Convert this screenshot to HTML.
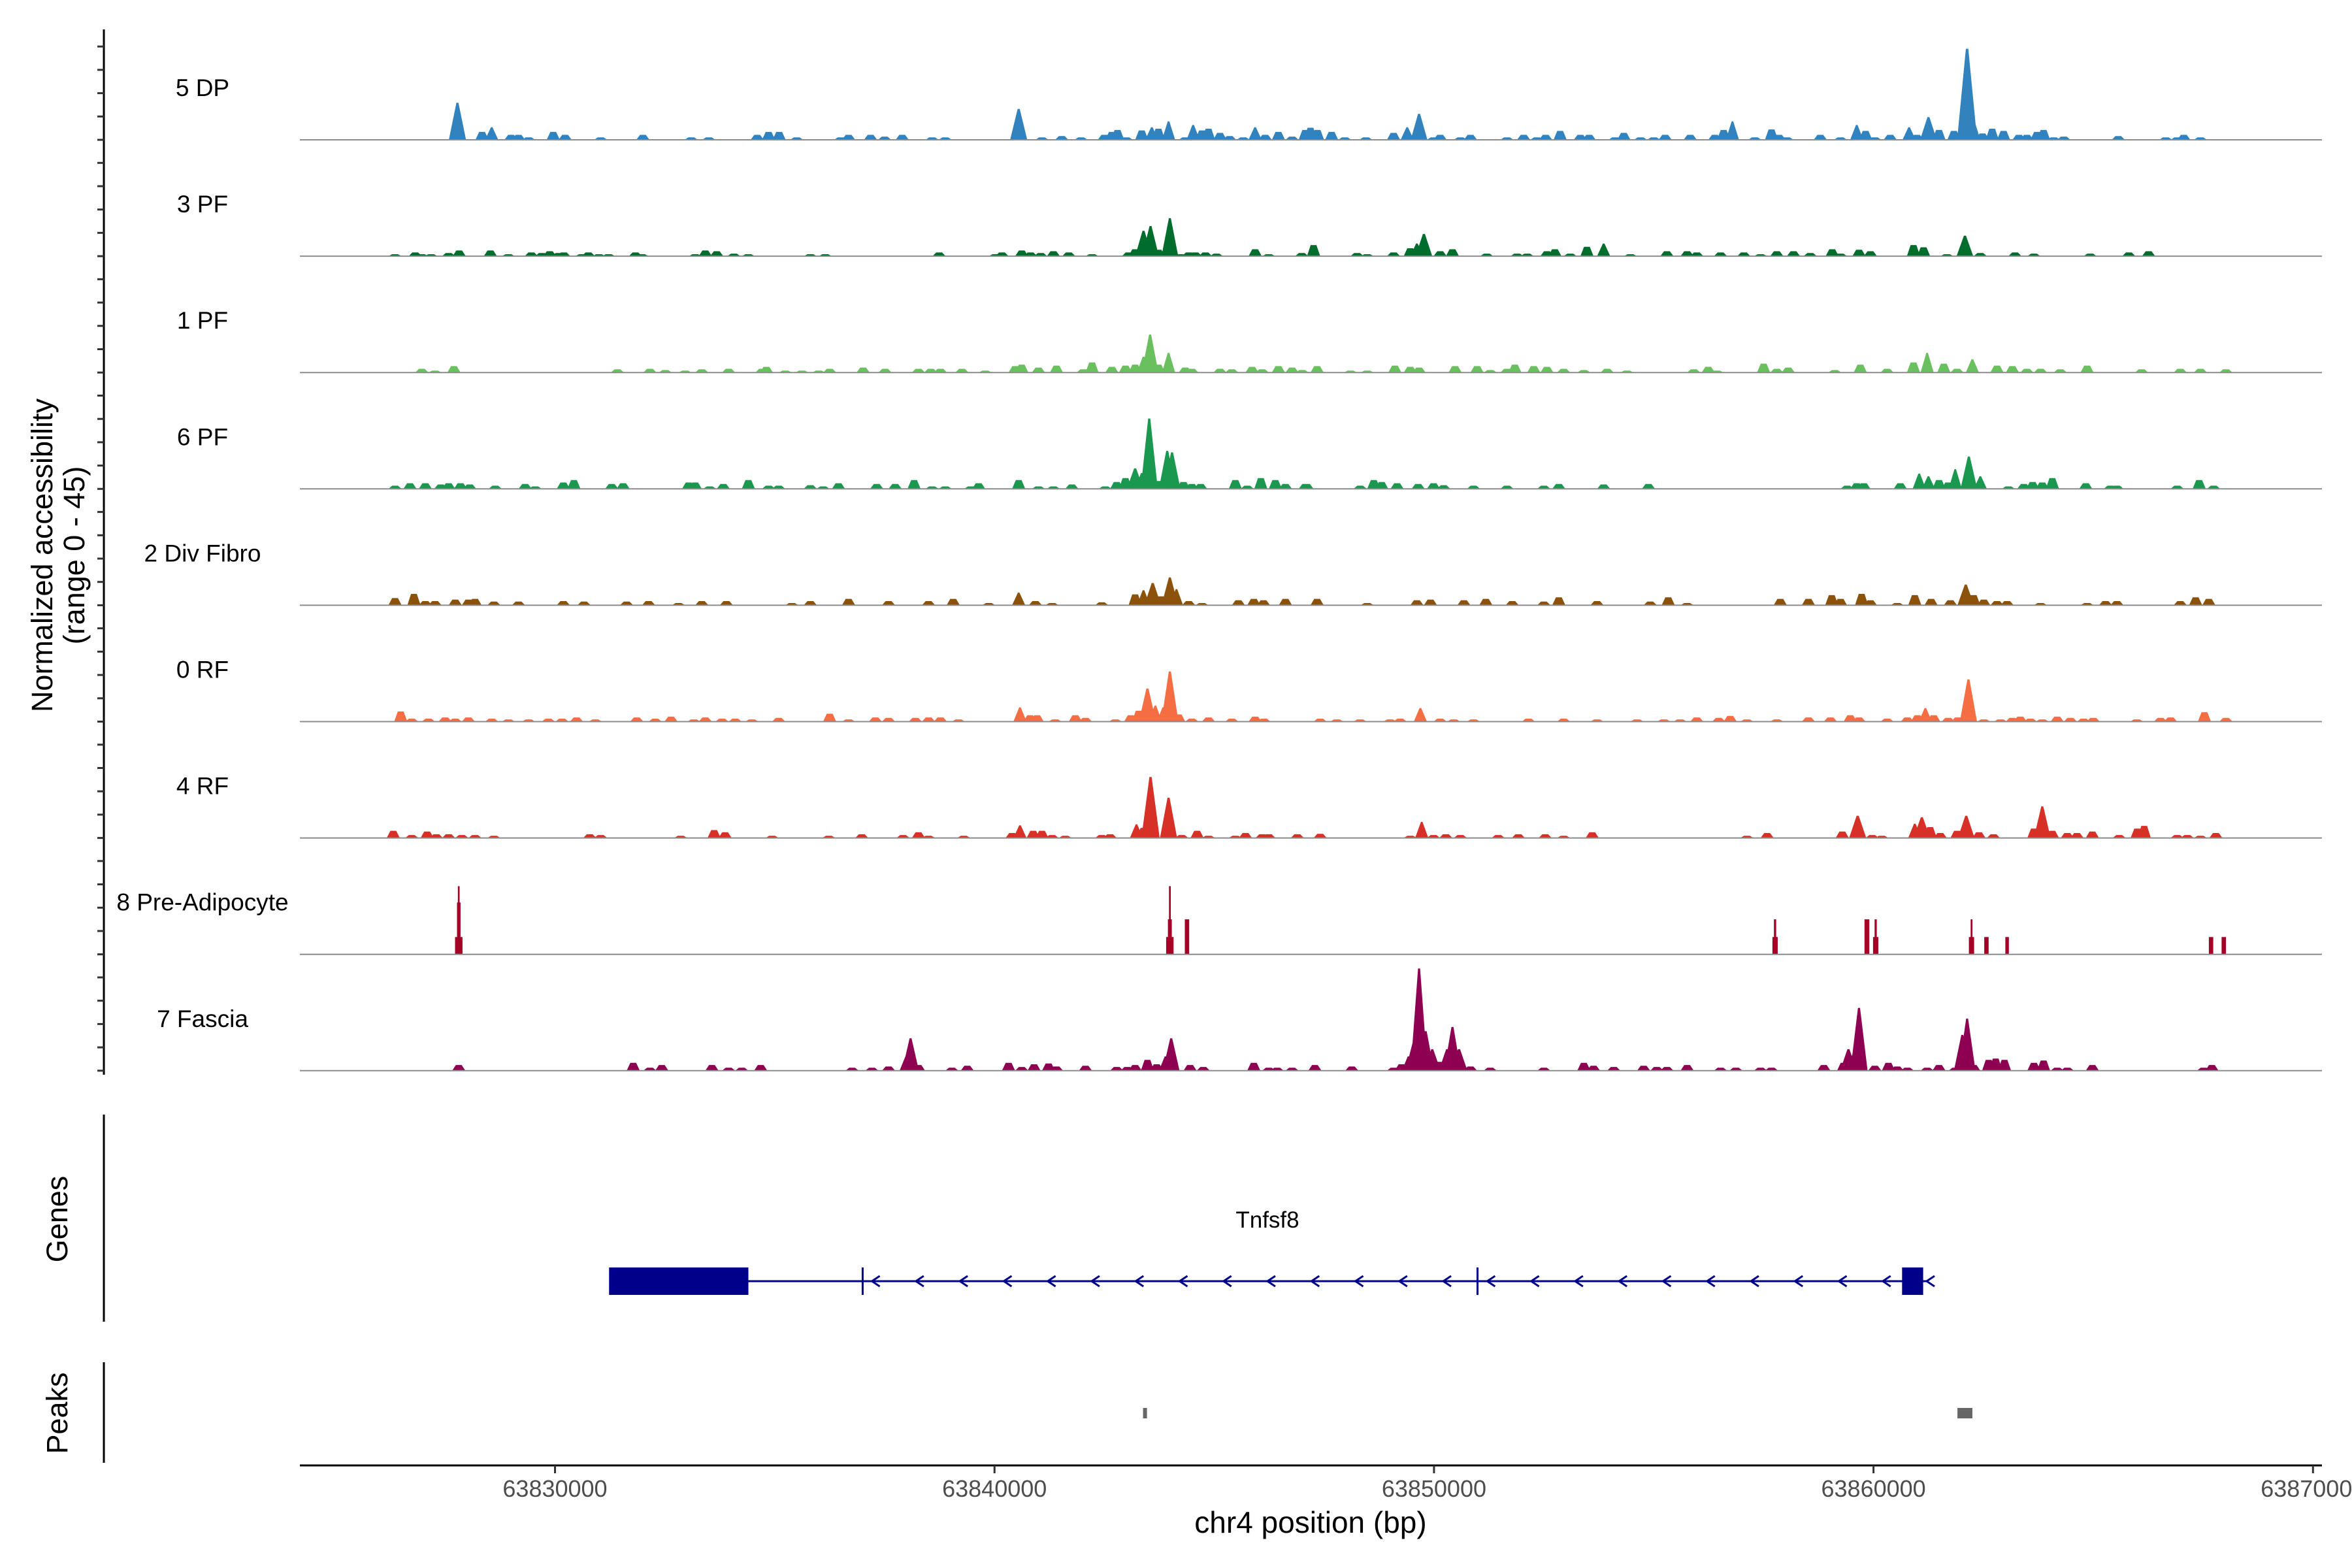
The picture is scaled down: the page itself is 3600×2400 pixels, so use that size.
<!DOCTYPE html>
<html><head><meta charset="utf-8"><style>
html,body{margin:0;padding:0;background:#fff;}
svg{display:block;font-family:"Liberation Sans",Arial,sans-serif;}
</style></head><body>
<svg id="chart" width="3600" height="2400" viewBox="0 0 3600 2400" xmlns="http://www.w3.org/2000/svg">
<rect x="0" y="0" width="3600" height="2400" fill="#fff"/>
<g id="tracks"></g>
<g id="yaxis"></g>
<text transform="translate(80,850) rotate(-90)" text-anchor="middle" font-size="45" fill="#000">Normalized accessibility</text>
<text transform="translate(129,850) rotate(-90)" text-anchor="middle" font-size="45" fill="#000">(range 0 - 45)</text>
<g id="genes"></g>
<line x1="159" y1="1706" x2="159" y2="2023" stroke="#000" stroke-width="3"/>
<text transform="translate(103,1866) rotate(-90)" text-anchor="middle" font-size="45" fill="#000">Genes</text>
<g id="peaks"></g>
<line x1="159" y1="2085" x2="159" y2="2239" stroke="#000" stroke-width="3"/>
<text transform="translate(103,2163) rotate(-90)" text-anchor="middle" font-size="45" fill="#000">Peaks</text>
<g id="xaxis"></g>
<text x="2006" y="2346" text-anchor="middle" font-size="46" fill="#000">chr4 position (bp)</text>
</svg>
<script>
// ---- data (positions in kb offset from chr4:63,800,000; values = normalized accessibility) ----
const trackNames = ["5 DP","3 PF","1 PF","6 PF","2 Div Fibro","0 RF","4 RF","8 Pre-Adipocyte","7 Fascia"];
const trackColors = ["#3182bd","#006d2c","#6abf5e","#1a9850","#8c510a","#f46d43","#d73027","#a50026","#8e0152"];
const xTicks = [63830000,63840000,63850000,63860000,63870000];
const tDP = [[27.78,15,0.3],[28.34,3.2],[28.56,5.1],[29.0,2],[29.17,2],[29.4,1],[29.96,3.2],[30.23,2],[31.04,1],[32.0,2],[33.1,1],[33.5,1],[34.6,2],[34.86,3.2],[35.1,3.2],[35.5,1],[36.5,1],[36.68,2],[37.18,2],[37.5,1.3],[37.9,2],[38.58,1],[38.88,1],[40.55,12.5,0.3],[41.08,1],[41.53,1.5],[41.97,1],[42.5,2],[42.67,3.2],[42.8,4],[43.0,1],[43.35,3.8],[43.58,5.1],[43.73,4.5],[43.96,7.5],[44.34,1],[44.52,6],[44.72,3.8],[44.87,4.5],[45.13,2.8],[45.35,1.5],[45.66,1],[45.93,5.1],[46.16,2],[46.46,3.2],[46.77,1.3],[47.07,4],[47.19,4.9],[47.35,4],[47.67,3.2],[47.97,1],[48.45,1],[49.08,2.8],[49.39,5.1],[49.66,10.5],[49.99,1],[50.14,2],[50.6,1],[50.83,2],[51.66,1],[52.04,2],[52.34,1],[52.54,2],[52.87,3.6],[53.33,2],[53.53,2],[54.12,1],[54.32,2.8],[54.7,1],[55.0,1],[55.26,2],[55.83,2],[56.39,2],[56.59,4],[56.79,7.5],[57.3,1],[57.68,4.2],[57.85,2],[58.03,1],[58.79,2],[59.25,1],[59.62,6],[59.82,3.6],[60.03,1],[60.38,2],[60.81,5.1],[60.99,2],[61.25,9.2],[61.49,4],[61.83,3.6],[62.13,36.9,0.35],[62.28,7.7],[62.48,2.6],[62.7,4.5],[62.96,3.6],[63.31,2],[63.49,2],[63.72,3.2],[63.87,4],[64.1,1],[64.33,1.3],[65.57,1.5],[66.65,1],[66.91,1],[67.06,2],[67.44,1]];
const tPF3 = [[26.36,0.8],[26.82,1.5],[26.97,0.8],[27.18,0.8],[27.58,1.3],[27.82,2.3],[28.53,2.3],[28.94,0.8],[29.46,1.5],[29.7,1.3],[29.88,2],[30.08,1.3],[30.2,1.5],[30.61,0.8],[30.76,1.5],[31.0,0.8],[31.22,0.8],[31.83,1.5],[31.98,0.8],[33.19,0.8],[33.42,2.3],[33.68,2],[34.07,1],[34.4,0.8],[35.81,0.8],[36.15,0.8],[38.74,1.5],[40.02,0.8],[40.17,1.5],[40.62,2.3],[40.82,1.5],[41.05,1.3],[41.34,2],[41.69,1.5],[42.22,0.8],[43.05,1.5],[43.2,2.8],[43.39,10.3],[43.55,12.2],[43.73,2.6],[43.99,15.4],[44.23,0.8],[44.42,1.5],[44.57,1.5],[44.8,1.5],[45.05,1],[45.93,2.8],[46.24,0.8],[46.99,1.3],[47.26,4.5],[48.25,1.3],[48.48,0.8],[49.08,1.5],[49.46,3.2],[49.61,5.1],[49.77,9],[50.14,2],[50.42,2.8],[51.2,1],[51.89,1],[52.12,1],[52.57,2],[52.75,2.8],[53.1,1],[53.48,3.8],[53.86,5.1],[54.47,0.8],[55.3,2],[55.76,2],[55.98,1.5],[56.52,1.5],[57.05,1.5],[57.43,0.8],[57.8,2],[58.18,2],[58.56,1.3],[59.06,2.8],[59.25,1],[59.67,2.6],[59.93,2],[60.91,4.5],[61.14,3.6],[61.67,0.8],[62.08,8.3],[62.43,1.3],[63.22,1.5],[63.65,1],[64.93,1],[65.81,1.5],[66.26,2]];
const tPF1 = [[26.97,1.5],[27.27,0.8],[27.7,2.6],[31.42,1.3],[32.16,1.5],[32.51,1],[32.96,0.8],[33.34,1.3],[33.95,1.5],[34.71,1.5],[34.81,2.3],[35.24,0.8],[35.62,0.8],[36.0,0.8],[36.25,1.5],[37.01,2],[37.51,1.5],[38.27,1.5],[38.55,1.5],[38.77,1.5],[39.26,1.5],[39.79,0.8],[40.47,2.6],[40.62,3.2],[41.0,2],[41.41,2.8],[42.02,1.3],[42.22,4.1],[42.67,2.3],[42.98,2.8],[43.2,3.2],[43.39,6.4],[43.54,15.4],[43.73,3.2],[43.96,8],[44.34,2],[44.49,1.5],[45.13,1.5],[45.4,1.3],[45.86,2.3],[46.09,1.3],[46.46,2.6],[46.77,2],[47.0,1],[47.34,2.6],[48.1,0.8],[48.48,0.8],[49.11,2.8],[49.46,2.3],[49.66,2],[50.48,2.6],[50.98,2.6],[51.28,1],[51.66,1.5],[51.84,3.2],[52.27,2.6],[52.57,2.3],[52.95,1.5],[53.41,1],[53.94,1.5],[54.39,0.8],[55.91,1.3],[56.24,2.3],[56.44,0.8],[57.5,3.6],[57.8,1.5],[58.06,2],[59.12,1],[59.7,3.2],[60.31,1.5],[60.91,4.1],[61.22,8],[61.6,3.6],[61.9,1.5],[62.25,5.4],[62.81,2.8],[63.16,2.6],[63.49,1.5],[63.8,1.5],[64.25,1.3],[64.86,2.8],[66.1,1.3],[66.98,1.5],[67.44,1.5],[68.02,1.3]];
const tPF6 = [[26.36,1.3],[26.7,2.3],[27.05,2.3],[27.4,1.8],[27.58,2.3],[27.85,2.3],[28.06,1.8],[28.64,1.3],[29.32,2],[29.55,1],[30.19,2.6],[30.43,3.6],[31.29,2],[31.55,2.3],[33.04,2.6],[33.19,2.6],[33.52,1],[33.83,2],[34.4,3.6],[34.86,1.3],[35.09,1.3],[35.81,1.5],[36.1,1],[36.45,2.3],[37.32,2],[37.74,2],[38.17,3.6],[38.58,1],[38.88,1],[39.46,1],[39.64,2.3],[40.55,3.6],[41.0,1],[41.34,1],[41.76,1.8],[42.52,1],[42.78,2.8],[42.98,4.4],[43.2,8.3],[43.35,6.4],[43.52,28.5,0.3],[43.73,3.2],[43.93,15.4],[44.04,14.8],[44.3,2.8],[44.49,2],[44.69,2],[45.48,3.6],[45.75,1.3],[46.06,4.4],[46.39,3.6],[46.62,2],[47.07,2],[47.11,2],[48.32,1.3],[48.63,3.6],[48.81,2.8],[49.16,2.3],[49.64,2],[49.99,2.3],[50.22,1.5],[50.9,1.3],[51.66,1.3],[52.5,1.3],[52.84,2],[53.86,1.8],[54.88,2],[59.4,1.3],[59.62,2.3],[59.78,2.3],[60.61,2.3],[61.04,6.2],[61.25,5.1],[61.49,3.6],[61.7,2.6],[61.86,8],[62.17,13.1],[62.43,5.1],[63.07,1],[63.42,2],[63.62,2.8],[63.84,2.6],[64.07,4.4],[64.83,2.3],[65.39,1.3],[65.54,1.3],[66.91,1.3],[67.41,3.6],[67.74,1.3]];
const tDiv = [[26.36,2.9],[26.79,4.6],[27.05,1.7],[27.27,1.7],[27.73,2.3],[28.03,2.3],[28.18,2.6],[28.61,1.5],[29.17,1.5],[30.19,1.7],[30.66,1.5],[31.63,1.5],[32.13,1.7],[32.81,0.9],[33.34,1.7],[33.9,1.7],[35.39,0.9],[35.81,1.7],[36.68,2.6],[37.59,1.7],[38.5,1.7],[39.06,2.6],[39.87,0.9],[40.55,5.1],[40.93,1.7],[41.31,0.9],[42.44,1.2],[43.2,4.4],[43.39,6.1],[43.6,9],[43.78,3.6],[43.99,11.3],[44.14,6.5],[44.42,1.7],[44.72,0.9],[45.55,2],[45.9,2.6],[46.12,2],[46.62,2.6],[47.34,2.6],[48.48,0.9],[49.61,2],[49.92,2.3],[50.68,2],[51.18,2.6],[51.78,1.7],[52.5,1.5],[52.84,3.2],[53.71,1.7],[54.92,1.5],[55.33,3.2],[55.76,0.9],[57.88,2.6],[58.52,2.6],[59.05,4.1],[59.25,2.6],[59.73,4.6],[59.93,2],[60.54,0.9],[60.94,4.1],[61.31,2.6],[61.75,2],[62.1,8.4],[62.28,4.1],[62.51,2.3],[62.81,1.7],[63.04,1.7],[63.8,0.9],[64.86,0.9],[65.28,1.7],[65.54,1.7],[66.98,1.7],[67.33,3.2],[67.63,2.6]];
const tRF0 = [[26.49,4.1],[26.74,1.2],[27.12,1.2],[27.5,1.7],[27.73,1.2],[28.03,1.7],[28.56,1.2],[28.94,0.9],[29.4,0.9],[29.85,1.2],[30.16,1.2],[30.49,1.7],[30.92,0.9],[31.86,1.7],[32.28,1.2],[32.64,2],[33.16,0.9],[33.42,1.7],[33.8,1.2],[34.1,1.2],[34.48,0.9],[35.09,1.5],[36.25,3.2],[36.68,0.9],[37.29,1.7],[37.59,1.5],[38.2,1.5],[38.5,1.7],[38.77,1.7],[39.18,0.9],[40.58,5.8],[40.81,2.6],[40.97,2.6],[41.38,0.9],[41.84,2.6],[42.07,1.5],[42.75,0.9],[43.1,2.6],[43.28,4.4],[43.48,13.4,0.3],[43.66,6.5],[43.84,5.8],[43.99,20.3,0.3],[44.19,2.9],[44.49,1.2],[44.87,1.7],[45.4,1.2],[45.93,2],[46.13,1.2],[47.41,1.2],[47.79,0.9],[48.32,0.9],[49.0,0.9],[49.23,1.2],[49.69,5.5],[50.14,1.2],[50.45,0.9],[50.9,0.9],[52.15,1.2],[52.95,1.2],[53.71,0.9],[54.62,0.9],[55.23,0.9],[55.6,0.9],[55.98,1.7],[56.48,1.5],[56.74,2.3],[57.12,0.9],[57.8,0.9],[58.52,1.7],[59.02,1.7],[59.47,2.6],[59.67,1.7],[60.31,1.2],[60.77,1.7],[61.0,2.6],[61.18,5.5],[61.37,2.6],[61.7,1.5],[61.92,1.7],[62.16,17.1,0.3],[62.51,0.9],[62.89,0.9],[63.16,1.5],[63.34,2],[63.57,1.2],[63.84,0.9],[64.18,2],[64.48,1.5],[64.78,1.2],[65.0,1.5],[65.99,0.9],[66.53,1.5],[66.76,1.7],[67.53,3.8],[68.02,1.5]];
const tRF4 = [[26.32,2.9],[26.74,1.2],[27.09,2.6],[27.3,1.5],[27.58,1.5],[27.88,1.2],[28.18,1.2],[28.61,0.9],[30.79,1.5],[31.04,1.2],[32.86,0.9],[33.62,3.2],[33.87,2.3],[34.94,0.9],[36.23,0.9],[36.98,1.5],[37.92,1.2],[38.27,2.3],[38.5,0.9],[39.3,0.9],[40.4,2],[40.58,5.1],[40.88,2.9],[41.08,2.9],[41.31,1.2],[41.61,0.9],[42.44,1.2],[42.63,1.5],[43.23,5.5],[43.39,4.1],[43.55,24.7,0.32],[43.96,16.3,0.3],[44.26,1.2],[44.61,2.9],[44.87,0.9],[45.48,0.9],[45.71,2],[46.09,1.5],[46.24,1.5],[46.89,1.5],[47.41,1.7],[49.46,0.9],[49.72,6.5],[49.99,1.2],[50.27,1.5],[50.6,1.2],[51.46,1.2],[51.92,1.5],[52.53,1.5],[52.95,0.9],[53.6,2.3],[57.12,0.9],[57.58,2],[59.29,2.6],[59.64,9,0.3],[59.97,1.2],[60.19,0.9],[60.94,5.8],[61.1,8.4],[61.29,4.4],[61.52,2],[61.9,2.9],[62.11,9],[62.4,2.3],[62.73,1.5],[63.65,3.8],[63.84,12.8],[64.07,2.9],[64.41,2],[64.63,2],[64.98,2.6],[65.59,1.2],[66.0,3.8],[66.16,4.9],[66.91,1.2],[67.14,1.2],[67.44,0.9],[67.79,2]];
const tPre = [[27.81,27.6,0.04],[27.81,21,0.08],[27.81,7,0.17],[43.99,27.6,0.04],[43.99,14.2,0.09],[43.99,7,0.17],[44.38,14.2,0.1],[57.76,14.2,0.05],[57.76,7,0.12],[59.85,14.2,0.11],[60.05,14.2,0.05],[60.05,7,0.12],[62.23,14.2,0.04],[62.23,7,0.12],[62.57,7,0.1],[63.04,7,0.08],[67.68,7,0.1],[67.97,7,0.1]];
const tFas = [[27.81,2.3],[31.78,3.2],[32.16,1.2],[32.43,2.3],[33.57,2.3],[33.95,1.2],[34.25,1.2],[34.68,2.3],[36.76,1.2],[37.21,1.2],[37.59,1.7],[37.99,5.8],[38.09,13.1],[38.27,2.3],[39.03,1.2],[39.38,2],[40.32,3.2],[40.62,1.5],[40.9,2.6],[41.23,2.9],[41.41,1.7],[42.07,2],[42.78,1.5],[43.02,1.5],[43.2,2.3],[43.48,4.4],[43.69,2.6],[43.89,5.8],[44.02,13.1],[44.45,2.3],[44.75,1.5],[45.9,3.2],[46.24,1.2],[46.43,1.2],[46.77,1.2],[47.29,2.3],[48.13,1.7],[49.08,1.2],[49.26,2.6],[49.42,5.8],[49.54,11.6],[49.66,41.4,0.3],[49.81,16],[49.96,8.7],[50.14,3.6],[50.3,8.7],[50.42,17.7],[50.57,8.7],[50.83,1.7],[51.28,1.2],[52.5,1.2],[53.41,3.2],[53.63,2],[54.09,1.5],[54.77,2],[55.07,1.5],[55.3,1.5],[55.76,2.3],[56.52,1.2],[56.87,1.2],[57.43,1.2],[57.68,1.2],[58.87,2.3],[59.32,3.2],[59.43,8.7],[59.55,7.3],[59.67,25.4,0.3],[60.03,2],[60.34,3.2],[60.54,1.7],[60.77,1.2],[61.22,1.2],[61.49,2.3],[61.86,1.2],[62.02,14.5],[62.13,21.1],[62.28,2.3],[62.62,4.4],[62.78,4.9],[62.98,4.4],[63.65,3.2],[63.87,4.1],[64.18,1.2],[64.41,1.2],[64.98,2.3],[67.51,1.2],[67.7,2.3]];
const trackData = [tDP,tPF3,tPF1,tPF6,tDiv,tRF0,tRF4,tPre,tFas];
const geneExons = [[31.23,34.40],[60.65,61.13]];
const geneSpan = [34.40,61.25];
const geneIntronMarks = [37.0,50.99];
const geneChevronStart = 37.27, geneChevronEnd = 61.3;
const peakRegions = [[43.38,43.44],[61.91,62.25]];

// ---- scales ----
const NS = "http://www.w3.org/2000/svg";
const X0 = 459, X1 = 3554;
function xScale(kb){ return 849.5 + (kb - 30) * 67.27; }
const trackTop0 = 214, trackStep = 178.1, yPerUnit = 170/45;
function baseY(i){ return trackTop0 + i * trackStep; }
function mk(tag, attrs, parent){ const e=document.createElementNS(NS,tag); for(const k in attrs) e.setAttribute(k,attrs[k]); parent.appendChild(e); return e; }

const gT = document.getElementById('tracks');
trackNames.forEach((name,i)=>{
  const by = baseY(i);
  const g = mk('g',{},gT);
  
  
  let d = '';
  const isBar = (i === 7);
  trackData[i].forEach(p=>{
    const kb=p[0], v=p[1]; const w = p[2] ? (isBar ? p[2] : p[2]*1.3) : (v > 8 ? 0.38 : 0.3);
    const xa = xScale(kb - w/2), xb = xScale(kb + w/2), yt = by - v*yPerUnit;
    if(isBar){
      d += `M${xa.toFixed(1)},${by}L${xa.toFixed(1)},${yt.toFixed(1)}L${xb.toFixed(1)},${yt.toFixed(1)}L${xb.toFixed(1)},${by}Z`;
    } else {
      const f = v > 5 ? 0.06 : 0.22;
      const ta = xScale(kb - w*f), tb = xScale(kb + w*f);
      d += `M${xa.toFixed(1)},${by}L${ta.toFixed(1)},${yt.toFixed(1)}L${tb.toFixed(1)},${yt.toFixed(1)}L${xb.toFixed(1)},${by}Z`;
    }
  });
  const path = mk('path',{d:d, fill:trackColors[i]}, g);
  
  
  const bl = mk('line',{x1:X0,y1:by,x2:X1,y2:by,stroke:'#8c8c8c','stroke-width':2}, g);
  
  
  const t = mk('text',{x:310,y:by-67,'text-anchor':'middle','font-size':37,fill:'#000'}, g);
  
  
  t.textContent = name;
});

// y axis line + ticks
const gY = document.getElementById('yaxis');
const yl = mk('line',{x1:159,y1:45,x2:159,y2:1645,stroke:'#000','stroke-width':3},gY);


for(let i=0;i<trackNames.length;i++){
  for(let k=0;k<5;k++){
    const y = baseY(i) - k*35.7;
    const tk = mk('line',{x1:149,y1:y,x2:159,y2:y,stroke:'#333','stroke-width':3},gY);
    
    
  }
}

// genes
const gG = document.getElementById('genes');
const gy = 1961;
const gl = mk('line',{x1:xScale(geneSpan[0]),y1:gy,x2:xScale(geneSpan[1]),y2:gy,stroke:'#00008b','stroke-width':3},gG);


geneExons.forEach(e=>{
  const r = mk('rect',{x:xScale(e[0]),y:gy-21,width:xScale(e[1])-xScale(e[0]),height:42,fill:'#00008b'},gG);
  
  
});
geneIntronMarks.forEach(m=>{
  const l = mk('line',{x1:xScale(m),y1:gy-21,x2:xScale(m),y2:gy+21,stroke:'#00008b','stroke-width':3},gG);
  
  
});
for(let kb=geneChevronStart; kb<=geneChevronEnd; kb+=1.0){
  const cx = xScale(kb);
  const c = mk('path',{d:`M${cx+8},${gy-8}L${cx-4},${gy}L${cx+8},${gy+8}`,fill:'none',stroke:'#00008b','stroke-width':3},gG);
  
  
}
const gn = mk('text',{x:1940,y:1879,'text-anchor':'middle','font-size':35,fill:'#000'},gG);


gn.textContent = 'Tnfsf8';

// peaks
const gP = document.getElementById('peaks');
peakRegions.forEach(p=>{
  const r = mk('rect',{x:xScale(p[0]),y:2155,width:Math.max(6,xScale(p[1])-xScale(p[0])),height:16,fill:'#666'},gP);
  
  
});

// x axis
const gX = document.getElementById('xaxis');
const xl = mk('line',{x1:X0,y1:2243,x2:X1,y2:2243,stroke:'#000','stroke-width':3},gX);


xTicks.forEach(v=>{
  const x = xScale((v-63800000)/1000);
  const tk = mk('line',{x1:x,y1:2243,x2:x,y2:2255,stroke:'#333','stroke-width':3},gX);
  
  
  const t = mk('text',{x:x,y:2291,'text-anchor':'middle','font-size':36,fill:'#4d4d4d'},gX);
  
  
  t.textContent = String(v);
});
</script>
</body></html>
